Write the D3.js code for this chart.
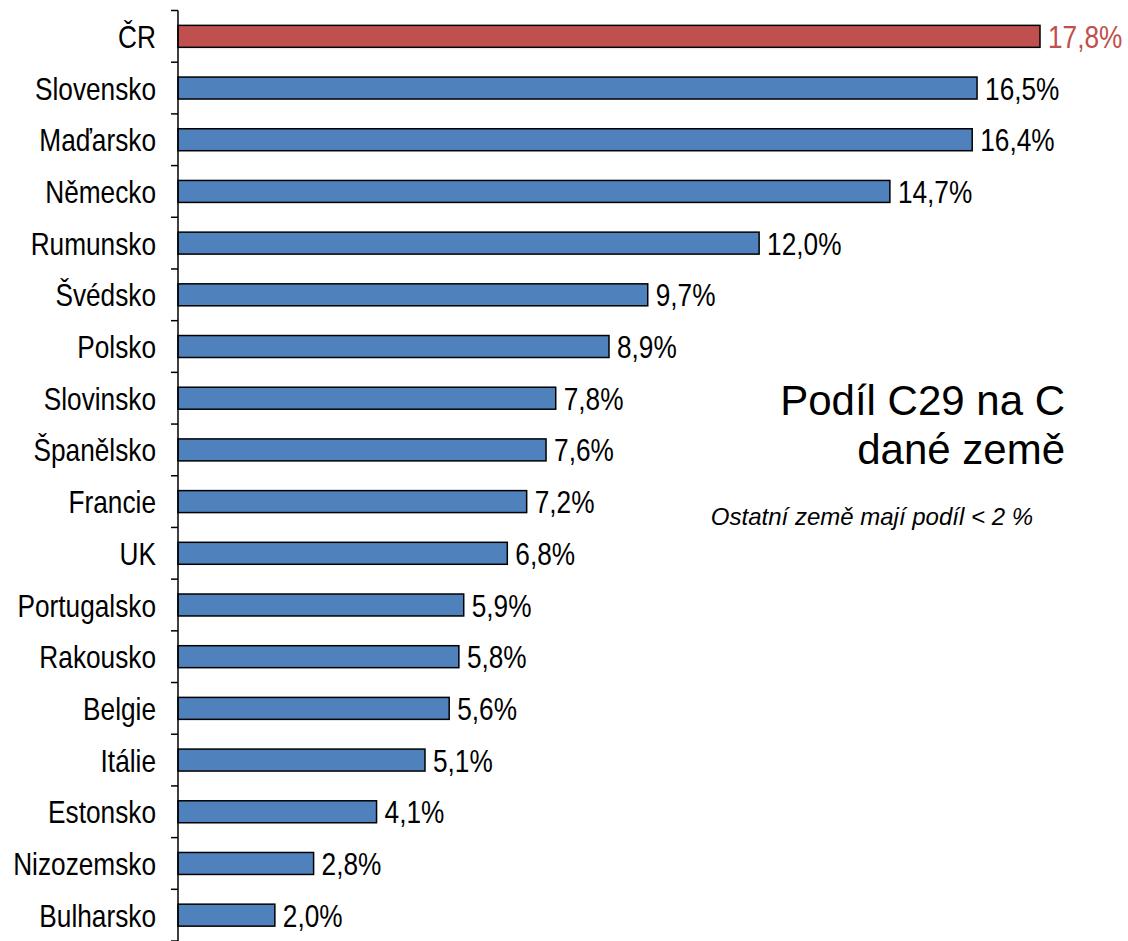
<!DOCTYPE html>
<html><head><meta charset="utf-8">
<script src="https://cdn.jsdelivr.net/npm/d3@7/dist/d3.min.js"></script>
<style>body{margin:0;background:#fff}svg{display:block}</style>
</head><body>
<svg id="c" width="1128" height="941"></svg>
<script>
const categories = ["ČR","Slovensko","Maďarsko","Německo","Rumunsko","Švédsko","Polsko","Slovinsko","Španělsko","Francie","UK","Portugalsko","Rakousko","Belgie","Itálie","Estonsko","Nizozemsko","Bulharsko"];
const values = [17.8,16.5,16.4,14.7,12.0,9.7,8.9,7.8,7.6,7.2,6.8,5.9,5.8,5.6,5.1,4.1,2.8,2.0];
const highlight = ["ČR"];
const titleLines = ["Podíl C29 na C","dané země"];
const note = "Ostatní země mají podíl < 2 %";

const svg = d3.select("#c");
const sans = "'Liberation Sans',Arial,sans-serif";
const NX = 0.82; // narrow scaling to mimic Arial Narrow
const x = d3.scaleLinear().domain([0,17.8]).range([178,1040]);
const y = d3.scaleBand().domain(categories).range([10.5,941]).paddingInner(0.575).paddingOuter(0.2875);
const loc = d3.formatLocale({decimal:",",thousands:" ",grouping:[3],currency:["","%"]});
const fmt = v => loc.format(".1f")(v) + "%";
const data = categories.map((c,i)=>({c, v: values[i]}));

svg.selectAll("rect.bar").data(data).join("rect")
  .attr("x", x(0)).attr("y", d=>y(d.c)).attr("width", d=>x(d.v)-x(0)).attr("height", y.bandwidth())
  .attr("fill", d=>highlight.includes(d.c)?"#C0504D":"#4F81BD")
  .attr("stroke","#000").attr("stroke-width",1.5);

svg.selectAll("text.val").data(data).join("text")
  .attr("transform", d=>`translate(${x(d.v)+8},${y(d.c)+y.bandwidth()/2}) scale(${NX},1)`)
  .attr("dy","0.36em")
  .attr("font-family", sans).attr("font-size", 32)
  .attr("fill", d=>highlight.includes(d.c)?"#C0504D":"#000")
  .text(d=>fmt(d.v));

// axis
const step = y.step();
const ticks = d3.range(categories.length+1).map(i=>10.5 + i*step);
svg.append("line").attr("x1",178).attr("x2",178).attr("y1",10.5).attr("y2",941).attr("stroke","#000").attr("stroke-width",1.5);
svg.selectAll("line.tk").data(ticks).join("line").attr("class","tk")
  .attr("x1",171).attr("x2",178).attr("y1",d=>d).attr("y2",d=>d).attr("stroke","#000").attr("stroke-width",1.5);

svg.selectAll("text.cat").data(categories).join("text")
  .attr("transform", d=>`translate(156,${y(d)+y.bandwidth()/2}) scale(${NX},1)`)
  .attr("dy","0.36em")
  .attr("text-anchor","end").attr("font-family",sans).attr("font-size",32).attr("fill","#000")
  .text(d=>d);

svg.selectAll("text.title").data(titleLines).join("text")
  .attr("x",1065).attr("y",(d,i)=>415+i*49).attr("text-anchor","end")
  .attr("font-family",sans).attr("font-size",42).attr("fill","#000")
  .text(d=>d);
svg.append("text").attr("x",1033).attr("y",525).attr("text-anchor","end")
  .attr("font-family",sans).attr("font-size",24).attr("font-style","italic")
  .text(note);
</script>
</body></html>
